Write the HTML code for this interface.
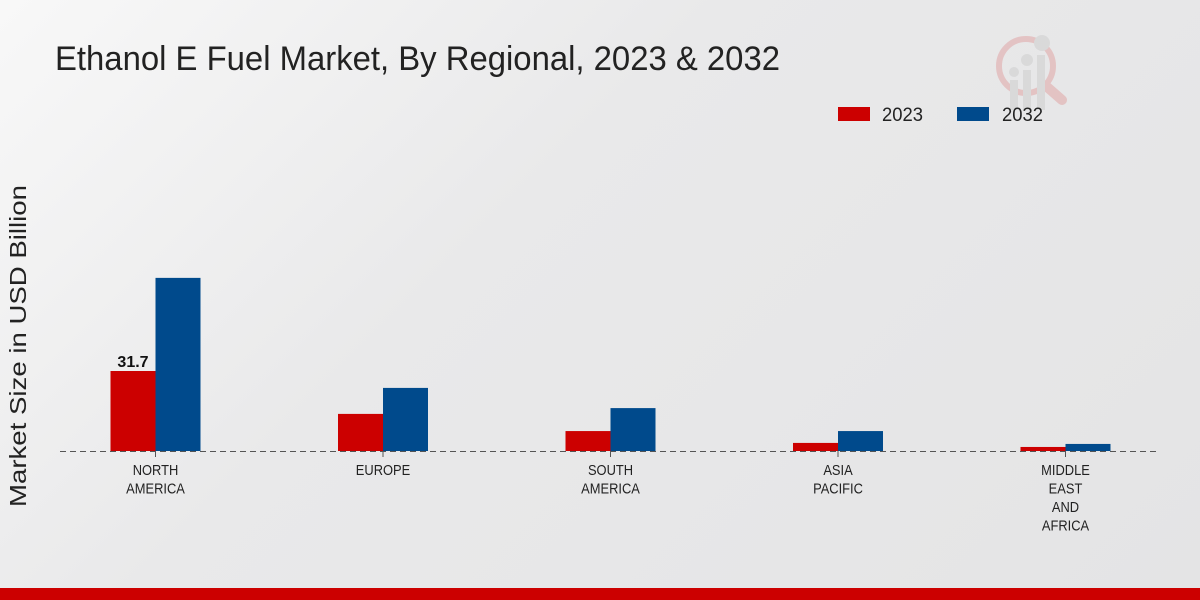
<!DOCTYPE html>
<html><head><meta charset="utf-8"><style>
html,body{margin:0;padding:0;width:1200px;height:600px;overflow:hidden}
body{background:linear-gradient(135deg,#f8f8f8 0%,#e9e9ea 40%,#e4e4e5 100%);font-family:"Liberation Sans",sans-serif}
</style></head><body>
<svg id="chart" width="1200" height="600" style="position:absolute;left:0;top:0">
<text x="55" y="70" font-size="34" fill="#222" textLength="725" lengthAdjust="spacingAndGlyphs">Ethanol E Fuel Market, By Regional, 2023 &amp; 2032</text>
<g opacity="0.5">
<circle cx="1026" cy="66" r="27" fill="none" stroke="#e0a0a0" stroke-width="6"/>
<line x1="1046" y1="86" x2="1062" y2="100" stroke="#e0a0a0" stroke-width="10" stroke-linecap="round"/>
<rect x="1010" y="80" width="8" height="30" fill="#ccc"/><rect x="1023" y="70" width="8" height="40" fill="#ccc"/><rect x="1037" y="55" width="8" height="55" fill="#ccc"/>
<circle cx="1014" cy="72" r="5" fill="#ccc"/><circle cx="1027" cy="60" r="6" fill="#ccc"/><circle cx="1042" cy="43" r="8" fill="#ccc"/>
</g>
<g>
<rect x="838" y="107" width="32" height="14" fill="#cc0000"/>
<text x="882" y="121" font-size="19" fill="#222" textLength="41" lengthAdjust="spacingAndGlyphs">2023</text>
<rect x="957" y="107" width="32" height="14" fill="#004a8c"/>
<text x="1002" y="121" font-size="19" fill="#222" textLength="41" lengthAdjust="spacingAndGlyphs">2032</text>
</g>
<text transform="translate(26,346) rotate(-90)" text-anchor="middle" font-size="23" fill="#222" textLength="322" lengthAdjust="spacingAndGlyphs">Market Size in USD Billion</text>
<line x1="60" y1="451.5" x2="1160" y2="451.5" stroke="#555" stroke-dasharray="6,4"/>
<g id="bars"></g>
<rect x="0" y="588" width="1200" height="12" fill="#cc0000"/>
</svg>
<script>
const categories=[["NORTH","AMERICA"],["EUROPE"],["SOUTH","AMERICA"],["ASIA","PACIFIC"],["MIDDLE","EAST","AND","AFRICA"]];
const values2023=[31.7,14.7,7.9,3.2,1.6];
const values2032=[68.6,25.0,17.0,7.9,2.8];
const labels2023=["31.7",null,null,null,null];
const NS="http://www.w3.org/2000/svg";
const g=document.getElementById('bars');
const base=451, pxPer=80/31.7, x0=155.5, step=227.5, bw=45;
function yScale(v){return base-v*pxPer;}
function xCenter(i){return x0+i*step;}
function mk(tag,a){const e=document.createElementNS(NS,tag);for(const k in a)e.setAttribute(k,a[k]);g.appendChild(e);return e;}
categories.forEach((c,i)=>{
 const cx=xCenter(i);
 const r1=mk('rect',{x:cx-bw,y:yScale(values2023[i]),width:bw,height:base-yScale(values2023[i]),fill:'#cc0000'});
 
 
 const r2=mk('rect',{x:cx,y:yScale(values2032[i]),width:bw,height:base-yScale(values2032[i]),fill:'#004a8c'});
 
 
 const tk=mk('line',{x1:cx,y1:base,x2:cx,y2:base+6,stroke:'#555'});
 
 
 c.forEach((t,j)=>{
  const tx=mk('text',{transform:'translate('+cx+','+(475+j*18.5)+') scale(0.86,1)','text-anchor':'middle','font-size':15,fill:'#222'});
  tx.textContent=t;
  
  
 });
 if(labels2023[i]){
  const l=mk('text',{x:cx-bw/2,y:yScale(values2023[i])-4,'text-anchor':'middle','font-size':16,'font-weight':'bold',fill:'#111'});
  l.textContent=labels2023[i];
  
  
 }
});
</script>
</body></html>
